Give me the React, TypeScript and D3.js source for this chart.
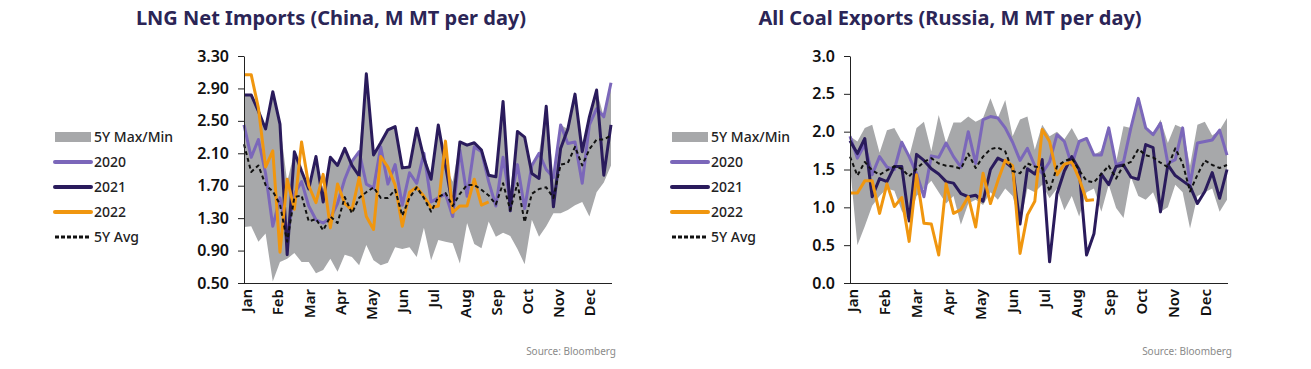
import React, { useEffect, useRef } from "react";
import * as d3 from "d3";

// Weekly values, 52 weeks (Jan..Dec)
const months = ["Jan", "Feb", "Mar", "Apr", "May", "Jun", "Jul", "Aug", "Sep", "Oct", "Nov", "Dec"];

const lngTicks = [0.5, 0.9, 1.3, 1.7, 2.1, 2.5, 2.9, 3.3];
const coalTicks = [0, 0.5, 1.0, 1.5, 2.0, 2.5, 3.0];

// LNG Net Imports (China)
const lngMax = [
  2.82, 2.82, 2.62, 2.40, 2.86, 2.46, 1.75, 2.12, 1.88, 1.70, 2.06, 1.65, 2.05, 1.95, 2.16, 2.00, 2.12, 3.08,
  2.08, 2.23, 2.39, 2.43, 1.92, 1.93, 2.41, 2.10, 1.80, 2.45, 1.95, 1.75, 2.24, 2.20, 2.23, 2.14, 1.83, 1.81,
  2.74, 1.65, 2.37, 2.30, 1.95, 2.10, 2.68, 1.80, 2.45, 2.40, 2.83, 2.12, 2.55, 2.88, 2.55, 2.97,
];
const lngMin = [
  1.19, 1.20, 1.01, 1.11, 0.52, 0.76, 0.80, 0.87, 0.76, 0.76, 0.62, 0.66, 0.80, 0.64, 0.85, 0.82, 0.72, 0.97,
  0.78, 0.72, 0.75, 0.94, 0.92, 0.94, 0.82, 1.18, 0.78, 1.03, 1.01, 0.99, 0.74, 1.24, 0.98, 0.93, 1.26, 1.07,
  1.12, 1.08, 0.92, 0.73, 1.28, 1.07, 1.20, 1.36, 1.36, 1.40, 1.46, 1.50, 1.32, 1.62, 1.74, 1.95,
];
const lng2020 = [
  2.45, 2.05, 2.27, 1.85, 1.20, 1.55, 1.10, 1.60, 1.75, 1.45, 1.28, 1.24, 1.30, 1.48, 1.78, 2.00, 2.12, 1.72,
  1.67, 2.18, 1.72, 1.96, 1.46, 1.86, 1.73, 2.10, 1.50, 1.55, 1.60, 1.32, 2.14, 1.57, 2.18, 2.12, 1.75, 1.45,
  2.05, 1.50, 1.96, 1.42, 1.95, 2.10, 1.90, 1.80, 2.45, 2.22, 2.24, 1.73, 2.45, 2.65, 2.55, 2.97,
];
const lng2021 = [
  2.82, 2.82, 2.62, 2.40, 2.86, 2.46, 0.85, 2.12, 1.88, 1.66, 2.06, 1.50, 2.05, 1.95, 2.16, 1.95, 1.82, 3.08,
  2.08, 2.23, 2.39, 2.43, 1.92, 1.93, 2.41, 2.04, 1.78, 2.45, 1.95, 1.44, 2.24, 2.20, 2.23, 2.14, 1.83, 1.81,
  2.74, 1.39, 2.37, 2.30, 1.85, 1.79, 2.68, 1.44, 2.16, 2.40, 2.83, 2.12, 2.55, 2.88, 1.83, 2.45,
];
const lng2022 = [
  3.07, 3.07, 2.66, 1.93, 2.13, 0.88, 1.78, 1.41, 2.24, 1.70, 1.49, 1.84, 1.18, 1.72, 1.48, 1.40, 1.80, 1.32,
  1.16, 2.06, 1.93, 1.71, 1.20, 1.62, 1.68, 1.57, 1.43, 1.45, 2.25, 1.37, 1.45, 1.45, 1.78, 1.46, 1.50,
];
const lngAvg = [
  2.21, 1.87, 1.95, 1.71, 1.63, 1.47, 1.01, 1.56, 1.58, 1.26, 1.29, 1.15, 1.32, 1.24, 1.56, 1.36, 1.55, 1.62,
  1.68, 1.55, 1.55, 1.65, 1.33, 1.55, 1.68, 1.55, 1.38, 1.56, 1.61, 1.45, 1.60, 1.71, 1.71, 1.65, 1.58, 1.47,
  1.73, 1.40, 1.73, 1.25, 1.60, 1.66, 1.68, 1.55, 1.96, 1.98, 2.18, 1.95, 2.15, 2.27, 2.27, 2.32,
];

// All Coal Exports (Russia)
const coalMax = [
  1.94, 1.87, 2.05, 2.09, 1.72, 2.02, 2.05, 1.87, 1.67, 2.05, 2.13, 1.74, 2.22, 1.85, 2.12, 2.12, 2.20, 2.13,
  2.18, 2.44, 2.18, 2.42, 1.94, 2.16, 2.20, 1.76, 2.09, 1.94, 2.00, 1.90, 2.05, 1.87, 1.91, 1.69, 1.75, 2.07,
  1.60, 2.07, 2.05, 2.44, 2.05, 1.96, 2.16, 1.85, 2.09, 2.05, 1.55, 2.09, 2.13, 1.95, 2.02, 2.18,
];
const coalMin = [
  1.55, 0.50, 0.75, 1.02, 1.15, 1.25, 1.22, 0.95, 0.82, 1.15, 1.25, 1.35, 1.20, 1.05, 1.15, 0.77, 1.05, 1.10,
  1.03, 1.20, 1.10, 1.25, 1.15, 0.77, 1.25, 1.20, 1.30, 1.12, 1.25, 0.96, 1.15, 0.88, 1.20, 1.25, 0.94, 1.30,
  0.99, 0.86, 1.40, 1.15, 1.10, 1.20, 0.94, 1.00, 1.30, 1.20, 0.72, 1.15, 1.20, 1.25, 0.94, 1.10,
];
const coal2020 = [
  1.94, 1.65, 1.83, 1.43, 1.67, 1.53, 1.50, 1.86, 1.67, 1.45, 1.14, 1.68, 1.66, 1.85, 1.67, 1.53, 2.00, 1.58,
  2.16, 2.20, 2.18, 2.05, 1.86, 1.62, 1.78, 1.55, 1.45, 1.60, 1.96, 1.87, 1.56, 1.87, 1.91, 1.69, 1.69, 2.05,
  1.56, 1.60, 2.05, 2.44, 2.05, 1.96, 2.11, 1.58, 1.63, 2.05, 1.30, 1.85, 1.87, 1.89, 2.02, 1.69,
];
const coal2021 = [
  1.88, 1.71, 1.91, 1.14, 1.38, 1.34, 1.54, 1.54, 0.82, 1.70, 1.62, 1.51, 1.44, 1.34, 1.32, 1.18, 1.14, 1.16,
  1.08, 1.50, 1.65, 1.60, 1.52, 0.78, 1.51, 1.44, 1.63, 0.28, 1.18, 1.48, 1.67, 1.50, 0.37, 0.65, 1.44, 1.30,
  1.54, 1.56, 1.40, 1.37, 1.83, 1.79, 0.94, 1.56, 1.42, 1.35, 1.28, 1.05, 1.21, 1.46, 1.12, 1.50,
];
const coal2022 = [
  1.19, 1.19, 1.35, 1.35, 0.92, 1.31, 1.01, 1.13, 0.55, 1.43, 0.79, 0.78, 0.37, 1.31, 0.92, 0.97, 1.14, 0.74,
  1.45, 1.05, 1.35, 1.62, 1.55, 0.39, 0.90, 1.08, 2.03, 1.87, 1.43, 1.57, 1.60, 1.38, 1.09, 1.10,
];
const coalAvg = [
  1.67, 1.42, 1.60, 1.49, 1.43, 1.49, 1.54, 1.51, 1.41, 1.51, 1.60, 1.65, 1.58, 1.55, 1.54, 1.51, 1.71, 1.52,
  1.67, 1.77, 1.79, 1.74, 1.48, 1.45, 1.58, 1.54, 1.52, 1.21, 1.54, 1.61, 1.65, 1.49, 1.35, 1.33, 1.44, 1.55,
  1.38, 1.56, 1.60, 1.77, 1.69, 1.66, 1.59, 1.53, 1.78, 1.58, 1.21, 1.43, 1.62, 1.56, 1.52, 1.56,
];

const GRAY = "#a7a8aa";
const C2020 = "#7b67ba";
const C2021 = "#2a1b5c";
const C2022 = "#f0960f";
const TITLE = "#2b2556";
const FONT = "'Noto Sans', 'Open Sans', sans-serif";

interface Panel {
  title: string;
  titleX: number;
  x0: number;
  x1: number;
  domain: [number, number];
  ticks: number[];
  fmt: (v: number) => string;
  max: number[];
  min: number[];
  s2020: number[];
  s2021: number[];
  s2022: number[];
  avg: number[];
  legendX: number;
}

const panels: Panel[] = [
  {
    title: "LNG Net Imports (China, M MT per day)",
    titleX: 331,
    x0: 244,
    x1: 611,
    domain: [0.5, 3.3],
    ticks: lngTicks,
    fmt: d3.format(".2f"),
    max: lngMax,
    min: lngMin,
    s2020: lng2020,
    s2021: lng2021,
    s2022: lng2022,
    avg: lngAvg,
    legendX: 55,
  },
  {
    title: "All Coal Exports (Russia, M MT per day)",
    titleX: 950,
    x0: 850,
    x1: 1227,
    domain: [0, 3],
    ticks: coalTicks,
    fmt: d3.format(".1f"),
    max: coalMax,
    min: coalMin,
    s2020: coal2020,
    s2021: coal2021,
    s2022: coal2022,
    avg: coalAvg,
    legendX: 672,
  },
];

const drawPanel = (svg: d3.Selection<SVGSVGElement, unknown, null, undefined>, p: Panel) => {
  const top = 56;
  const bottom = 283;
  const x = d3.scaleLinear().domain([0, 51]).range([p.x0, p.x1]);
  const y = d3.scaleLinear().domain(p.domain).range([bottom, top]);
  const g = svg.append("g");

  // 5Y max/min band
  const band = d3
    .area<number>()
    .x((_, i) => x(i))
    .y0((_, i) => y(p.min[i]))
    .y1((d) => y(d));
  g.append("path").datum(p.max).attr("d", band).attr("fill", GRAY);

  const line = d3
    .line<number>()
    .x((_, i) => x(i))
    .y((d) => y(d));

  const series: [number[], string, number, string | null][] = [
    [p.s2020, C2020, 3, null],
    [p.s2021, C2021, 3, null],
    [p.s2022, C2022, 3, null],
    [p.avg, "#111", 2, "4,3"],
  ];
  series.forEach(([data, color, w, dash]) => {
    g.append("path")
      .datum(data)
      .attr("d", line)
      .attr("fill", "none")
      .attr("stroke", color)
      .attr("stroke-width", w)
      .attr("stroke-linejoin", "round")
      .attr("stroke-dasharray", dash);
  });

  // y axis
  const yAxis = d3
    .axisLeft(y)
    .tickValues(p.ticks)
    .tickFormat((d) => p.fmt(d as number))
    .tickSize(6)
    .tickSizeOuter(0)
    .tickPadding(9);
  const ya = g.append("g").attr("transform", `translate(${p.x0},0)`).call(yAxis);
  ya.attr("font-family", FONT).attr("font-size", 16);
  ya.selectAll("text").attr("fill", "#111").attr("font-weight", 600);
  ya.selectAll("line").attr("stroke", "#222");
  ya.select(".domain").attr("stroke", "#222");

  // x axis line + month labels
  g.append("line")
    .attr("x1", p.x0)
    .attr("x2", p.x1 + 1)
    .attr("y1", bottom + 0.5)
    .attr("y2", bottom + 0.5)
    .attr("stroke", "#222");
  g.selectAll("text.month")
    .data(months)
    .join("text")
    .attr("class", "month")
    .attr("transform", (_, m) => `translate(${x((m * 52) / 12) + 3},${bottom + 6}) rotate(-90)`)
    .attr("text-anchor", "end")
    .attr("dy", "0.35em")
    .attr("font-family", FONT)
    .attr("font-size", 15)
    .attr("font-weight", 600)
    .attr("fill", "#111")
    .text((d) => d);

  // title
  svg
    .append("text")
    .attr("x", p.titleX)
    .attr("y", 25)
    .attr("text-anchor", "middle")
    .attr("font-family", FONT)
    .attr("font-size", 20)
    .attr("font-weight", 700)
    .attr("fill", TITLE)
    .text(p.title);

  // source
  svg
    .append("text")
    .attr("x", p.x1 + 5)
    .attr("y", 355)
    .attr("text-anchor", "end")
    .attr("font-family", FONT)
    .attr("font-size", 10)
    .attr("fill", "#8a8a8a")
    .text("Source: Bloomberg");

  // legend
  const items = [
    { label: "5Y Max/Min", kind: "band" },
    { label: "2020", kind: C2020 },
    { label: "2021", kind: C2021 },
    { label: "2022", kind: C2022 },
    { label: "5Y Avg", kind: "avg" },
  ];
  const lg = svg.append("g").attr("transform", `translate(${p.legendX},0)`);
  items.forEach((it, k) => {
    const cy = 137 + k * 25;
    if (it.kind === "band") {
      lg.append("rect").attr("x", 0).attr("y", cy - 5).attr("width", 36).attr("height", 10).attr("fill", GRAY);
    } else if (it.kind === "avg") {
      lg.append("line")
        .attr("x1", 0)
        .attr("x2", 36)
        .attr("y1", cy)
        .attr("y2", cy)
        .attr("stroke", "#111")
        .attr("stroke-width", 3)
        .attr("stroke-dasharray", "4,2");
    } else {
      lg.append("line")
        .attr("x1", 0)
        .attr("x2", 36)
        .attr("y1", cy)
        .attr("y2", cy)
        .attr("stroke", it.kind)
        .attr("stroke-width", 4)
        .attr("stroke-linecap", "round");
    }
    lg.append("text")
      .attr("x", 39)
      .attr("y", cy)
      .attr("dy", "0.35em")
      .attr("font-family", FONT)
      .attr("font-size", 14)
      .attr("font-weight", 500)
      .attr("fill", "#222")
      .text(it.label);
  });
};

const App: React.FC = () => {
  const svgRef = useRef<SVGSVGElement>(null);

  useEffect(() => {
    if (!svgRef.current) return;
    document.body.style.margin = "0";
    const svg = d3.select(svgRef.current);
    svg.selectAll("*").remove();
    panels.forEach((p) => drawPanel(svg, p));
  }, []);

  return <svg ref={svgRef} width={1311} height={369} style={{ display: "block", background: "#fff" }} />;
};

export default App;
